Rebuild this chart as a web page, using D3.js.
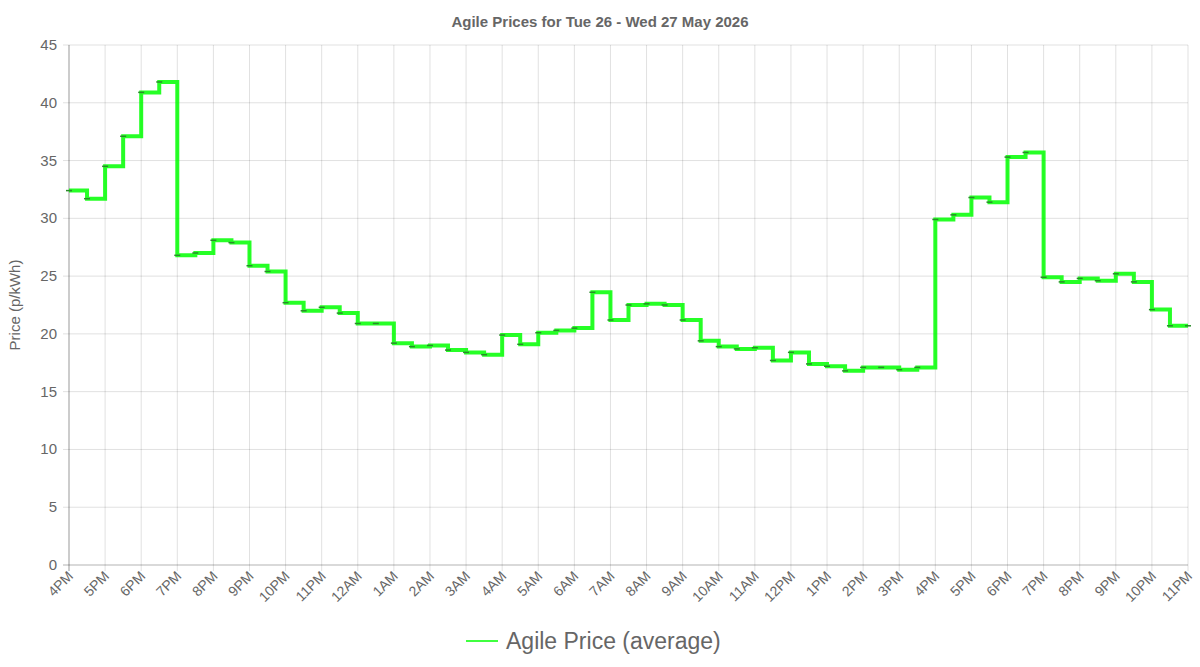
<!DOCTYPE html>
<html><head><meta charset="utf-8">
<script src="https://cdn.jsdelivr.net/npm/d3@7"></script>
<style>body{margin:0;background:#fff;font-family:"Liberation Sans",Arial,sans-serif}</style>
</head><body><svg id="c" width="1200" height="667"></svg>
<script>
const title = "Agile Prices for Tue 26 - Wed 27 May 2026";
const hourLabels = ["4PM","5PM","6PM","7PM","8PM","9PM","10PM","11PM","12AM","1AM","2AM","3AM","4AM","5AM","6AM","7AM","8AM","9AM","10AM","11AM","12PM","1PM","2PM","3PM","4PM","5PM","6PM","7PM","8PM","9PM","10PM","11PM"];
const prices = [32.4,31.7,34.5,37.1,40.9,41.8,26.8,27.0,28.1,27.9,25.9,25.4,22.7,22.0,22.3,21.8,20.9,20.9,19.2,18.9,19.0,18.6,18.4,18.2,19.9,19.1,20.1,20.3,20.5,23.6,21.2,22.5,22.6,22.5,21.2,19.4,18.9,18.7,18.8,17.7,18.4,17.4,17.2,16.8,17.1,17.1,16.9,17.1,29.9,30.3,31.8,31.4,35.3,35.7,24.9,24.5,24.8,24.6,25.2,24.5,22.1,20.7,20.7];
const yTicks = [0,5,10,15,20,25,30,35,40,45];

const svg = d3.select("#c");
const L=69,R=1188,T=45,B=565;
const x = d3.scaleLinear().domain([0,hourLabels.length-1]).range([L,R]);
const y = d3.scaleLinear().domain([0,45]).range([B,T]);
const g = svg.append("g");
// grid
g.selectAll(".vg").data(hourLabels).enter().append("line")
 .attr("x1",(d,i)=>x(i)).attr("x2",(d,i)=>x(i)).attr("y1",T).attr("y2",B+6)
 .attr("stroke","rgba(0,0,0,0.12)");
g.selectAll(".hg").data(yTicks).enter().append("line")
 .attr("x1",L-6).attr("x2",R).attr("y1",d=>y(d)).attr("y2",d=>y(d))
 .attr("stroke",d=>d===0?"rgba(0,0,0,0.3)":"rgba(0,0,0,0.12)");
g.append("line").attr("x1",L).attr("x2",L).attr("y1",T).attr("y2",B+6).attr("stroke","rgba(0,0,0,0.3)");
// y labels
g.selectAll(".yl").data(yTicks).enter().append("text")
 .attr("x",L-12).attr("y",d=>y(d)+5).attr("text-anchor","end")
 .attr("font-size",15).attr("fill","#666").text(d=>d);
// x labels
g.selectAll(".xl").data(hourLabels).enter().append("text")
 .attr("transform",(d,i)=>`translate(${x(i)+5},${B+12}) rotate(-45)`)
 .attr("text-anchor","end").attr("font-size",14).attr("fill","#666").text(d=>d);
// line
const xh = d3.scaleLinear().domain([0,(hourLabels.length-1)*2]).range([L,R]);
const line = d3.line().x((d,i)=>xh(i)).y(d=>y(d)).curve(d3.curveStepAfter);
g.append("path").datum(prices).attr("d",line).attr("fill","none")
 .attr("stroke","#00ff00").attr("stroke-width",4).attr("stroke-opacity",0.85);
g.selectAll(".pt").data(prices).enter().append("line")
 .attr("x1",(d,i)=>xh(i)-3).attr("x2",(d,i)=>xh(i)+3).attr("y1",d=>y(d)).attr("y2",d=>y(d))
 .attr("stroke","#2a8a2a").attr("stroke-width",1.5);
// title
svg.append("text").attr("x",600).attr("y",27).attr("text-anchor","middle")
 .attr("font-size",15).attr("font-weight","bold").attr("fill","#666").text(title);
svg.append("text").attr("transform",`translate(20,${(T+B)/2}) rotate(-90)`)
 .attr("text-anchor","middle").attr("font-size",15).attr("fill","#666").text("Price (p/kWh)");
// legend
svg.append("line").attr("x1",466).attr("x2",498).attr("y1",641).attr("y2",641).attr("stroke","#00ff00").attr("stroke-width",1.5);
svg.append("text").attr("x",506).attr("y",649).attr("font-size",23).attr("fill","#666").text("Agile Price (average)");
</script></body></html>
